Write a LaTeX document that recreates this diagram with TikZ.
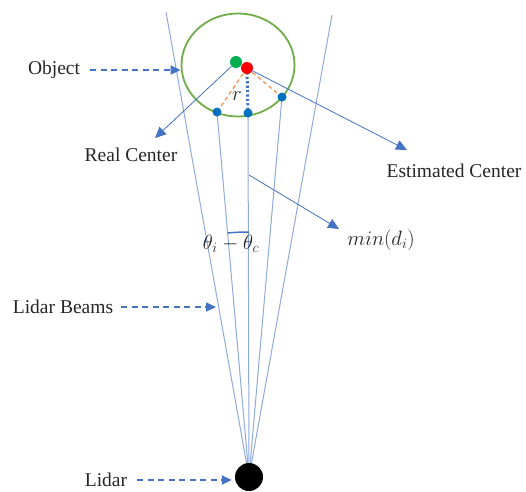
\documentclass[tikz,border=0pt]{standalone}
\usepackage{fontspec}
\setmainfont{Liberation Serif}
\usetikzlibrary{positioning, calc, arrows.meta, shapes.geometric}
\definecolor{beamblue}{HTML}{8FAADC}
\definecolor{arrowblue}{HTML}{4472C4}
\definecolor{objgreen}{HTML}{70AD47}
\definecolor{realgreen}{HTML}{00B050}
\definecolor{hitblue}{HTML}{0070C0}
\definecolor{rayorange}{HTML}{F0955A}

\begin{document}
\begin{tikzpicture}[x=1pt, y=-1pt,
    lbl/.style={font=\fontsize{19.5}{23}\selectfont, inner sep=0pt, text=black!85},
    mathlbl/.style={font=\fontsize{21}{25}\selectfont, inner sep=0pt, text=black!85},
    beam/.style={draw=beamblue, line width=1pt},
    dasharrow/.style={draw=arrowblue, line width=1.6pt, dash pattern=on 6pt off 4.5pt,
        -{Triangle[length=10pt,width=9pt]}},
    ptrarrow/.style={draw=arrowblue, line width=0.8pt, -{Triangle[length=11pt,width=10pt]}},
    dot/.style={circle, inner sep=0pt, minimum size=#1}]
    \useasboundingbox (0,0) rectangle (526,491);

    % Lidar, beam ends and hit points
    \node[dot=28pt, fill=black] (lidar) at (249,477) {};
    \coordinate (ltop) at (166,12);
    \coordinate (rtop) at (332,15);
    \coordinate (hitlc) at (217,112);
    \coordinate (hitmc) at (248,113);
    \coordinate (hitrc) at (282,97);
    \coordinate (estc) at (247,68);
    \coordinate (beamhit) at (216,307);

    % Object
    \node[ellipse, draw=objgreen, line width=1.8pt, minimum width=113pt, minimum height=103pt] (obj) at (238,65) {};

    % Lidar beams
    \draw[beam] (lidar) -- (ltop);
    \draw[beam] (lidar) -- (rtop);
    \draw[beam] (lidar) -- (hitmc);
    \draw[beam] (lidar) -- (hitlc);
    \draw[beam] (lidar) -- (hitrc);

    % Radius markers
    \draw[rayorange, line width=1.3pt, dash pattern=on 4pt off 3pt] (estc) -- (hitlc);
    \draw[rayorange, line width=1.3pt, dash pattern=on 4pt off 3pt] (estc) -- (hitrc);
    \draw[arrowblue, line width=3pt, dash pattern=on 2.2pt off 2.2pt] (estc) -- (hitmc);
    \node[mathlbl] (rlbl) at (237,96) {$r$};

    % Centers and hit points
    \node[dot=12pt, fill=realgreen] (real) at (236,62) {};
    \node[dot=12pt, fill=red] (est) at (estc) {};
    \node[dot=9pt, fill=hitblue] (hitl) at (hitlc) {};
    \node[dot=9pt, fill=hitblue] (hitm) at (hitmc) {};
    \node[dot=9pt, fill=hitblue] (hitr) at (hitrc) {};

    % Angle between beams
    \draw[arrowblue, line width=1.5pt] ($(lidar.center)+(0,-245)$) arc[start angle=-90, end angle=-95, radius=245];
    \node[mathlbl] (anglbl) at (231,244) {$\theta_i-\theta_c$};

    % Labels
    \node[lbl] (objlbl) at (54,70) {Object};
    \node[lbl] (reallbl) at (131,155) {Real Center};
    \node[lbl] (estlbl) at (454,171) {Estimated Center};
    \node[mathlbl] (minlbl) at (381,240) {$min(d_i)$};
    \node[lbl] (beamlbl) at (63,307) {Lidar Beams};
    \node[lbl] (lidarlbl) at (106,480) {Lidar};
    \coordinate (minfrom) at (249,175);
    \coordinate (realtip) at (155,138);
    \coordinate (esttip) at (407,150);
    \coordinate (mintip) at (339,229);

    % Arrows
    \draw[dasharrow] ([xshift=10pt]objlbl.east) -- (objlbl.east -| obj.west);
    \draw[dasharrow] ([xshift=8pt]beamlbl.east) -- (beamhit);
    \draw[dasharrow] ([xshift=10pt]lidarlbl.east) -- ([xshift=-3pt]lidarlbl.east -| lidar.west);
    \draw[ptrarrow] (real) -- (realtip);
    \draw[ptrarrow] (est) -- (esttip);
    \draw[ptrarrow] (minfrom) -- (mintip);
\end{tikzpicture}
\end{document}
